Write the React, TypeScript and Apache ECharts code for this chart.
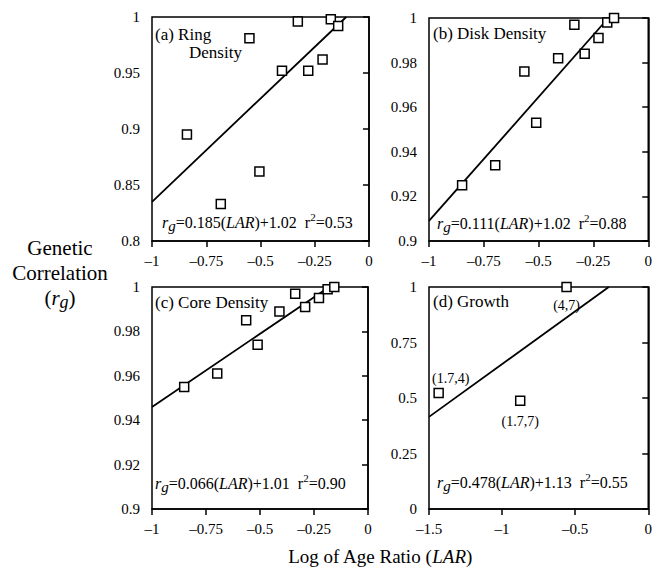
import React, { useEffect, useRef } from "react";
import * as echarts from "echarts";

// ---- data ----
const ringX = [-0.839, -0.683, -0.551, -0.505, -0.401, -0.328, -0.28, -0.214, -0.176, -0.142];
const ringY = [0.895, 0.833, 0.981, 0.862, 0.952, 0.996, 0.952, 0.962, 0.998, 0.992];
const ringFit = [[-1, 0.835], [-0.105, 1.0]];

const diskX = [-0.849, -0.698, -0.565, -0.511, -0.411, -0.337, -0.29, -0.227, -0.187, -0.156];
const diskY = [0.925, 0.934, 0.976, 0.953, 0.982, 0.997, 0.984, 0.991, 0.998, 1.0];
const diskFit = [[-1, 0.909], [-0.182, 1.0]];

const coreX = [-0.851, -0.698, -0.564, -0.511, -0.41, -0.337, -0.291, -0.227, -0.187, -0.156];
const coreY = [0.955, 0.961, 0.985, 0.974, 0.989, 0.997, 0.991, 0.995, 0.999, 1.0];
const coreFit = [[-1, 0.946], [-0.18, 1.0]];

const growthX = [-1.434, -0.876, -0.559];
const growthY = [0.523, 0.488, 1.0];
const growthLabels = ["(1.7,4)", "(1.7,7)", "(4,7)"];
const growthFit = [[-1.5, 0.415], [-0.27, 1.0]];

const panelTitles = ["(a) Ring", "(b) Disk Density", "(c) Core Density", "(d) Growth"];
const equations = [
  { slope: "0.185", icpt: "1.02", r2: "0.53" },
  { slope: "0.111", icpt: "1.02", r2: "0.88" },
  { slope: "0.066", icpt: "1.01", r2: "0.90" },
  { slope: "0.478", icpt: "1.13", r2: "0.55" },
];

const FONT = "'Liberation Serif', 'DejaVu Serif', serif";

const fmt = (v: number) => {
  const s = String(parseFloat(Number(v).toFixed(4)));
  return s.replace("-", "\u2013");
};

export default function App() {
  const ref = useRef<HTMLDivElement>(null);

  useEffect(() => {
    if (!ref.current) return;
    const chart = echarts.init(ref.current, undefined, { renderer: "svg" });

    const grids = [
      { left: 152, top: 17, width: 217, height: 224 },
      { left: 429, top: 18, width: 221, height: 223 },
      { left: 152, top: 287, width: 216, height: 222 },
      { left: 429, top: 287, width: 221, height: 222 },
    ].map((g) => ({
      ...g,
      show: true,
      borderColor: "#000",
      borderWidth: 1.5,
      backgroundColor: "transparent",
      containLabel: false,
    }));

    const axisCommon = {
      axisLine: { show: true, lineStyle: { color: "#000", width: 1.5 } },
      axisTick: { show: true, inside: false, length: 6, lineStyle: { color: "#000", width: 1.5 } },
      splitLine: { show: false },
      axisLabel: { color: "#000", fontFamily: FONT, fontSize: 15, formatter: fmt },
    };

    const xRanges = [
      [-1, 0, 0.25],
      [-1, 0, 0.25],
      [-1, 0, 0.25],
      [-1.5, 0, 0.5],
    ];
    const yRanges = [
      [0.8, 1, 0.05],
      [0.9, 1, 0.02],
      [0.9, 1, 0.02],
      [0, 1, 0.25],
    ];

    const xAxis = xRanges.map((r, i) => ({
      type: "value",
      gridIndex: i,
      min: r[0],
      max: r[1],
      interval: r[2],
      ...axisCommon,
      axisLabel: { ...axisCommon.axisLabel, margin: 12 },
    }));
    const yAxis = yRanges.map((r, i) => ({
      type: "value",
      gridIndex: i,
      min: r[0],
      max: r[1],
      interval: r[2],
      ...axisCommon,
      axisLabel: { ...axisCommon.axisLabel, margin: 12 },
    }));

    const labelPos = ["top", "bottom", "bottom"];
    const labelDist = [2, 9, 6];
    const labelOff = [[12, 0], [0, 0], [0, 0]];

    const pts = (xs: number[], ys: number[]) => xs.map((x, i) => [x, ys[i]]);
    const sets = [
      pts(ringX, ringY),
      pts(diskX, diskY),
      pts(coreX, coreY),
      growthX.map((x, i) => ({
        value: [x, growthY[i]],
        label: {
          show: true,
          position: labelPos[i],
          distance: labelDist[i],
          offset: labelOff[i],
          formatter: growthLabels[i],
          color: "#000",
          fontFamily: FONT,
          fontSize: 14,
        },
      })),
    ];
    const fits = [ringFit, diskFit, coreFit, growthFit];

    const series: any[] = [];
    fits.forEach((f, i) => {
      series.push({
        type: "line",
        xAxisIndex: i,
        yAxisIndex: i,
        data: f,
        symbol: "none",
        lineStyle: { color: "#000", width: 1.8 },
        z: 2,
      });
    });
    sets.forEach((d, i) => {
      series.push({
        type: "scatter",
        xAxisIndex: i,
        yAxisIndex: i,
        data: d,
        symbol: "rect",
        symbolSize: 9,
        clip: false,
        itemStyle: { color: "#fff", borderColor: "#000", borderWidth: 1.5, opacity: 1 },
        z: 5,
      });
    });

    const eqRich = {
      i: { fontFamily: FONT, fontSize: 16, fontStyle: "italic", lineHeight: 22, verticalAlign: "middle", fill: "#000" },
      n: { fontFamily: FONT, fontSize: 16, lineHeight: 22, verticalAlign: "middle", fill: "#000" },
      sub: { fontFamily: FONT, fontSize: 15, fontStyle: "italic", lineHeight: 15, verticalAlign: "bottom", fill: "#000" },
      sup: { fontFamily: FONT, fontSize: 11, lineHeight: 11, verticalAlign: "top", fill: "#000" },
    };
    const eqText = (e: any) =>
      `{i|r}{sub|g}{n|=${e.slope}(}{i|LAR}{n|)+${e.icpt}  r}{sup|2}{n|=${e.r2}}`;
    const eqPos = [
      [162, 222],
      [437, 223],
      [155, 483],
      [437, 482],
    ];
    const titlePos = [
      [155, 34],
      [433, 33],
      [155, 302],
      [433, 301],
    ];

    const txt = (x: number, y: number, text: string, size = 17, align = "left", rich?: any) => ({
      type: "text",
      x,
      y,
      z: 10,
      style: {
        text,
        fontFamily: FONT,
        fontSize: size,
        fill: "#000",
        align,
        verticalAlign: "middle",
        rich,
      },
    });

    const graphic: any[] = [
      ...panelTitles.map((t, i) => txt(titlePos[i][0], titlePos[i][1], t)),
      txt(189, 52, "Density"),
      ...equations.map((e, i) => txt(eqPos[i][0], eqPos[i][1], eqText(e), 16, "left", eqRich)),
      txt(60, 248, "Genetic", 21, "center"),
      txt(60, 273, "Correlation", 21, "center"),
      txt(60, 298, "{n|(}{i|r}{sub|g}{n|)}", 21, "center", {
        n: { fontFamily: FONT, fontSize: 21, lineHeight: 26, verticalAlign: "middle", fill: "#000" },
        i: { fontFamily: FONT, fontSize: 21, fontStyle: "italic", lineHeight: 26, verticalAlign: "middle", fill: "#000" },
        sub: { fontFamily: FONT, fontSize: 18, fontStyle: "italic", lineHeight: 18, verticalAlign: "bottom", fill: "#000" },
      }),
      txt(380, 556, "{n|Log of Age Ratio (}{i|LAR}{n|)}", 19, "center", {
        n: { fontFamily: FONT, fontSize: 19, fill: "#000" },
        i: { fontFamily: FONT, fontSize: 19, fontStyle: "italic", fill: "#000" },
      }),
    ];

    chart.setOption({
      animation: false,
      backgroundColor: "#fff",
      grid: grids,
      xAxis,
      yAxis,
      series,
      graphic,
    });

    return () => chart.dispose();
  }, []);

  return (
    <div
      ref={ref}
      style={{ position: "absolute", left: 0, top: 0, width: 655, height: 569 }}
    />
  );
}
